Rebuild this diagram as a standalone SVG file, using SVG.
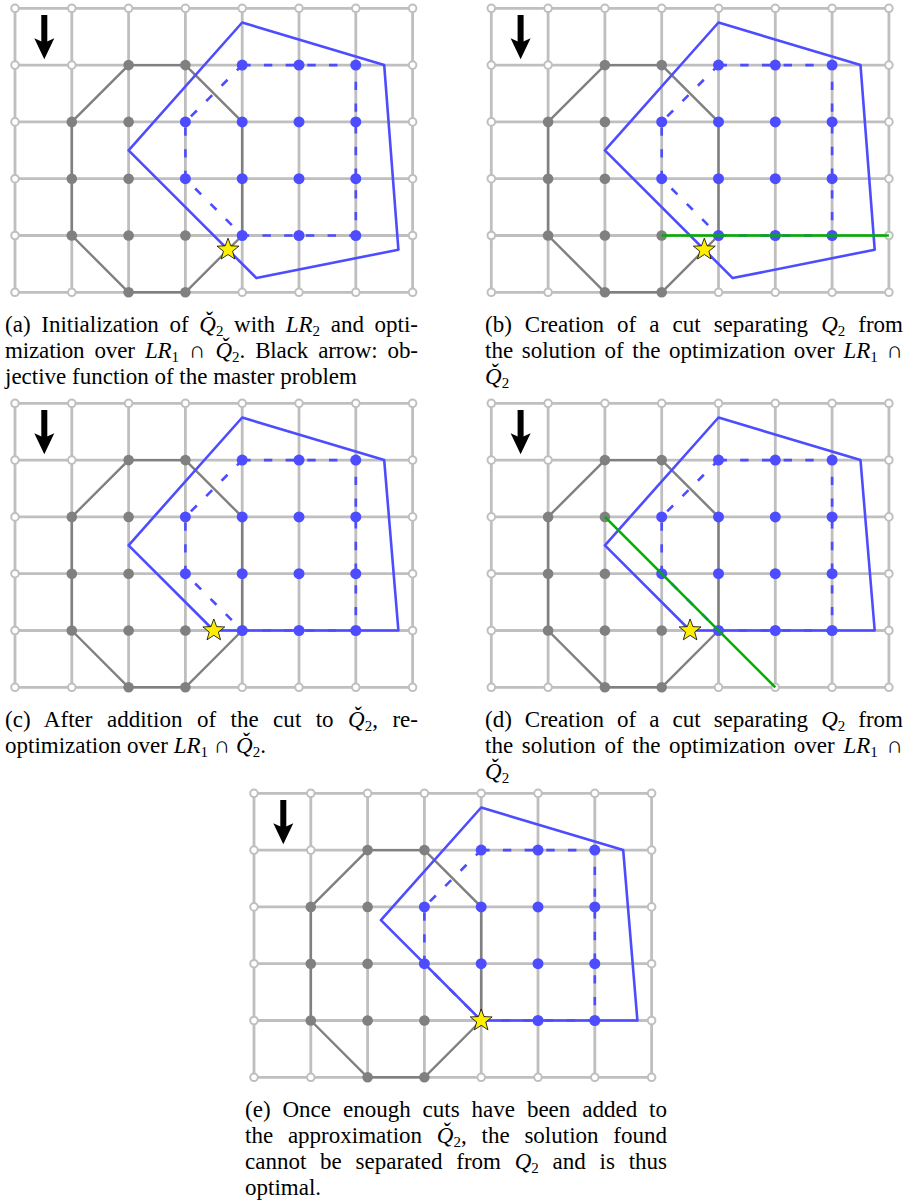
<svg xmlns="http://www.w3.org/2000/svg" xmlns:xlink="http://www.w3.org/1999/xlink" width="908" height="1203" viewBox="0 0 908 1203">
<style>
.grid{fill:none;stroke:#bfbfbf;stroke-width:2.8}
.open{fill:#fff;stroke:#bfbfbf;stroke-width:2}
.oct{fill:none;stroke:#808080;stroke-width:2.4;stroke-linejoin:round}
.gdot{fill:#808080}
.bdot{fill:#4d4dff}
.q2{fill:none;stroke:#4d4dff;stroke-width:2.6;stroke-dasharray:8.4 13.3}
.lr1{fill:none;stroke:#4d4dff;stroke-width:2.6;stroke-linejoin:round}
.cut{fill:none;stroke:#00b000;stroke-width:2.6}
.star{fill:#ffee00;stroke:#000;stroke-width:0.8;stroke-linejoin:miter}
.arrow{fill:#000}
</style>
<defs>
<g id="base">
<path class="grid" d="M0,0H397.6M0,56.8H397.6M0,113.6H397.6M0,170.4H397.6M0,227.2H397.6M0,284H397.6M0,0V284M56.8,0V284M113.6,0V284M170.4,0V284M227.2,0V284M284,0V284M340.8,0V284M397.6,0V284"/>
<g class="open">
<circle cx="0" cy="0" r="3.8"/><circle cx="56.8" cy="0" r="3.8"/><circle cx="113.6" cy="0" r="3.8"/><circle cx="170.4" cy="0" r="3.8"/><circle cx="227.2" cy="0" r="3.8"/><circle cx="284" cy="0" r="3.8"/><circle cx="340.8" cy="0" r="3.8"/><circle cx="397.6" cy="0" r="3.8"/>
<circle cx="0" cy="56.8" r="3.8"/><circle cx="56.8" cy="56.8" r="3.8"/><circle cx="397.6" cy="56.8" r="3.8"/>
<circle cx="0" cy="113.6" r="3.8"/><circle cx="397.6" cy="113.6" r="3.8"/>
<circle cx="0" cy="170.4" r="3.8"/><circle cx="397.6" cy="170.4" r="3.8"/>
<circle cx="0" cy="227.2" r="3.8"/><circle cx="397.6" cy="227.2" r="3.8"/>
<circle cx="0" cy="284" r="3.8"/><circle cx="56.8" cy="284" r="3.8"/><circle cx="227.2" cy="284" r="3.8"/><circle cx="284" cy="284" r="3.8"/><circle cx="340.8" cy="284" r="3.8"/><circle cx="397.6" cy="284" r="3.8"/>
</g>
<polygon class="oct" points="113.6,56.8 170.4,56.8 227.2,113.6 227.2,227.2 170.4,284 113.6,284 56.8,227.2 56.8,113.6"/>
<g class="gdot">
<circle cx="113.6" cy="56.8" r="5.3"/><circle cx="170.4" cy="56.8" r="5.3"/><circle cx="56.8" cy="113.6" r="5.3"/><circle cx="113.6" cy="113.6" r="5.3"/><circle cx="56.8" cy="170.4" r="5.3"/><circle cx="113.6" cy="170.4" r="5.3"/><circle cx="56.8" cy="227.2" r="5.3"/><circle cx="113.6" cy="227.2" r="5.3"/><circle cx="170.4" cy="227.2" r="5.3"/><circle cx="113.6" cy="284" r="5.3"/><circle cx="170.4" cy="284" r="5.3"/>
</g>
<polygon class="q2" points="227.2,56.8 340.8,56.8 340.8,227.2 227.2,227.2 170.4,170.4 170.4,113.6"/>
<g class="bdot">
<circle cx="227.2" cy="56.8" r="5.5"/><circle cx="284" cy="56.8" r="5.5"/><circle cx="340.8" cy="56.8" r="5.5"/>
<circle cx="170.4" cy="113.6" r="5.5"/><circle cx="227.2" cy="113.6" r="5.5"/><circle cx="284" cy="113.6" r="5.5"/><circle cx="340.8" cy="113.6" r="5.5"/>
<circle cx="170.4" cy="170.4" r="5.5"/><circle cx="227.2" cy="170.4" r="5.5"/><circle cx="284" cy="170.4" r="5.5"/><circle cx="340.8" cy="170.4" r="5.5"/>
<circle cx="227.2" cy="227.2" r="5.5"/><circle cx="284" cy="227.2" r="5.5"/><circle cx="340.8" cy="227.2" r="5.5"/>
</g>
<g class="arrow">
<rect x="26.3" y="6.7" width="6" height="28"/>
<polygon points="29.3,51 19.3,30 29.3,34.5 39.3,30"/>
</g>
</g>
<polygon id="star" class="star" points="0,-11.5 2.82,-3.88 10.94,-3.55 4.57,1.48 6.76,9.3 0,4.8 -6.76,9.3 -4.57,1.48 -10.94,-3.55 -2.82,-3.88"/>
</defs>

<g id="panel-a" transform="translate(15,8.3)">
<use xlink:href="#base" href="#base"/>
<polygon class="lr1" points="227.2,14.2 369.2,56.8 383.4,241.4 241.4,269.8 113.6,142"/>
<use xlink:href="#star" href="#star" transform="translate(213,241.4)"/>
</g>
<g id="panel-b" transform="translate(491.3,8.3)">
<use xlink:href="#base" href="#base"/>
<polygon class="lr1" points="227.2,14.2 369.2,56.8 383.4,241.4 241.4,269.8 113.6,142"/>
<g id="connectors-b"><line class="cut" x1="170.4" y1="227.2" x2="397.6" y2="227.2"/></g>
<use xlink:href="#star" href="#star" transform="translate(213,241.4)"/>
</g>
<g id="panel-c" transform="translate(15,403.3)">
<use xlink:href="#base" href="#base"/>
<polygon class="lr1" points="227.2,14.2 369.2,56.8 383.4,227.2 198.8,227.2 113.6,142"/>
<use xlink:href="#star" href="#star" transform="translate(198.8,227.2)"/>
</g>
<g id="panel-d" transform="translate(491.3,403.3)">
<use xlink:href="#base" href="#base"/>
<polygon class="lr1" points="227.2,14.2 369.2,56.8 383.4,227.2 198.8,227.2 113.6,142"/>
<g id="connectors-d"><line class="cut" x1="113.6" y1="113.6" x2="284" y2="284"/></g>
<use xlink:href="#star" href="#star" transform="translate(198.8,227.2)"/>
</g>
<g id="panel-e" transform="translate(254,793.3)">
<use xlink:href="#base" href="#base"/>
<polygon class="lr1" points="227.2,14.2 369.2,56.8 383.4,227.2 227.2,227.2 126.9,126.9"/>
<use xlink:href="#star" href="#star" transform="translate(227.2,227.2)"/>
</g>

<g id="captions" font-family="'Liberation Serif', 'Times New Roman', serif" font-size="23" fill="#000">
<text x="5" y="332" word-spacing="4.9" textLength="413" lengthAdjust="spacing">(a) Initialization of <tspan font-style="italic">Q&#x30C;</tspan><tspan font-size="15" dy="4">2</tspan><tspan dy="-4"> with </tspan><tspan font-style="italic">LR</tspan><tspan font-size="15" dy="4">2</tspan><tspan dy="-4"> and opti-</tspan></text>
<text x="5" y="358" word-spacing="4.5" textLength="413" lengthAdjust="spacing">mization over <tspan font-style="italic">LR</tspan><tspan font-size="15" dy="4">1</tspan><tspan dy="-4"> ∩ </tspan><tspan font-style="italic">Q&#x30C;</tspan><tspan font-size="15" dy="4">2</tspan><tspan dy="-4">. Black arrow: ob-</tspan></text>
<text x="5" y="384">jective function of the master problem</text>

<text x="485" y="332" word-spacing="7.3" textLength="418" lengthAdjust="spacing">(b) Creation of a cut separating <tspan font-style="italic">Q</tspan><tspan font-size="15" dy="4">2</tspan><tspan dy="-4"> from</tspan></text>
<text x="485" y="358" word-spacing="2.9" textLength="418" lengthAdjust="spacing">the solution of the optimization over <tspan font-style="italic">LR</tspan><tspan font-size="15" dy="4">1</tspan><tspan dy="-4"> ∩</tspan></text>
<text x="485" y="384"><tspan font-style="italic">Q&#x30C;</tspan><tspan font-size="15" dy="4">2</tspan></text>

<text x="5" y="727" word-spacing="8.6" textLength="413" lengthAdjust="spacing">(c) After addition of the cut to <tspan font-style="italic">Q&#x30C;</tspan><tspan font-size="15" dy="4">2</tspan><tspan dy="-4">, re-</tspan></text>
<text x="5" y="753">optimization over <tspan font-style="italic">LR</tspan><tspan font-size="15" dy="4">1</tspan><tspan dy="-4"> ∩ </tspan><tspan font-style="italic">Q&#x30C;</tspan><tspan font-size="15" dy="4">2</tspan><tspan dy="-4">.</tspan></text>

<text x="485" y="727" word-spacing="7.3" textLength="418" lengthAdjust="spacing">(d) Creation of a cut separating <tspan font-style="italic">Q</tspan><tspan font-size="15" dy="4">2</tspan><tspan dy="-4"> from</tspan></text>
<text x="485" y="753" word-spacing="2.9" textLength="418" lengthAdjust="spacing">the solution of the optimization over <tspan font-style="italic">LR</tspan><tspan font-size="15" dy="4">1</tspan><tspan dy="-4"> ∩</tspan></text>
<text x="485" y="779"><tspan font-style="italic">Q&#x30C;</tspan><tspan font-size="15" dy="4">2</tspan></text>

<text x="245" y="1117" word-spacing="6.2" textLength="422" lengthAdjust="spacing">(e) Once enough cuts have been added to</text>
<text x="245" y="1143" word-spacing="9" textLength="422" lengthAdjust="spacing">the approximation <tspan font-style="italic">Q&#x30C;</tspan><tspan font-size="15" dy="4">2</tspan><tspan dy="-4">, the solution found</tspan></text>
<text x="245" y="1169" word-spacing="8" textLength="422" lengthAdjust="spacing">cannot be separated from <tspan font-style="italic">Q</tspan><tspan font-size="15" dy="4">2</tspan><tspan dy="-4"> and is thus</tspan></text>
<text x="245" y="1195">optimal.</text>
</g>
</svg>
